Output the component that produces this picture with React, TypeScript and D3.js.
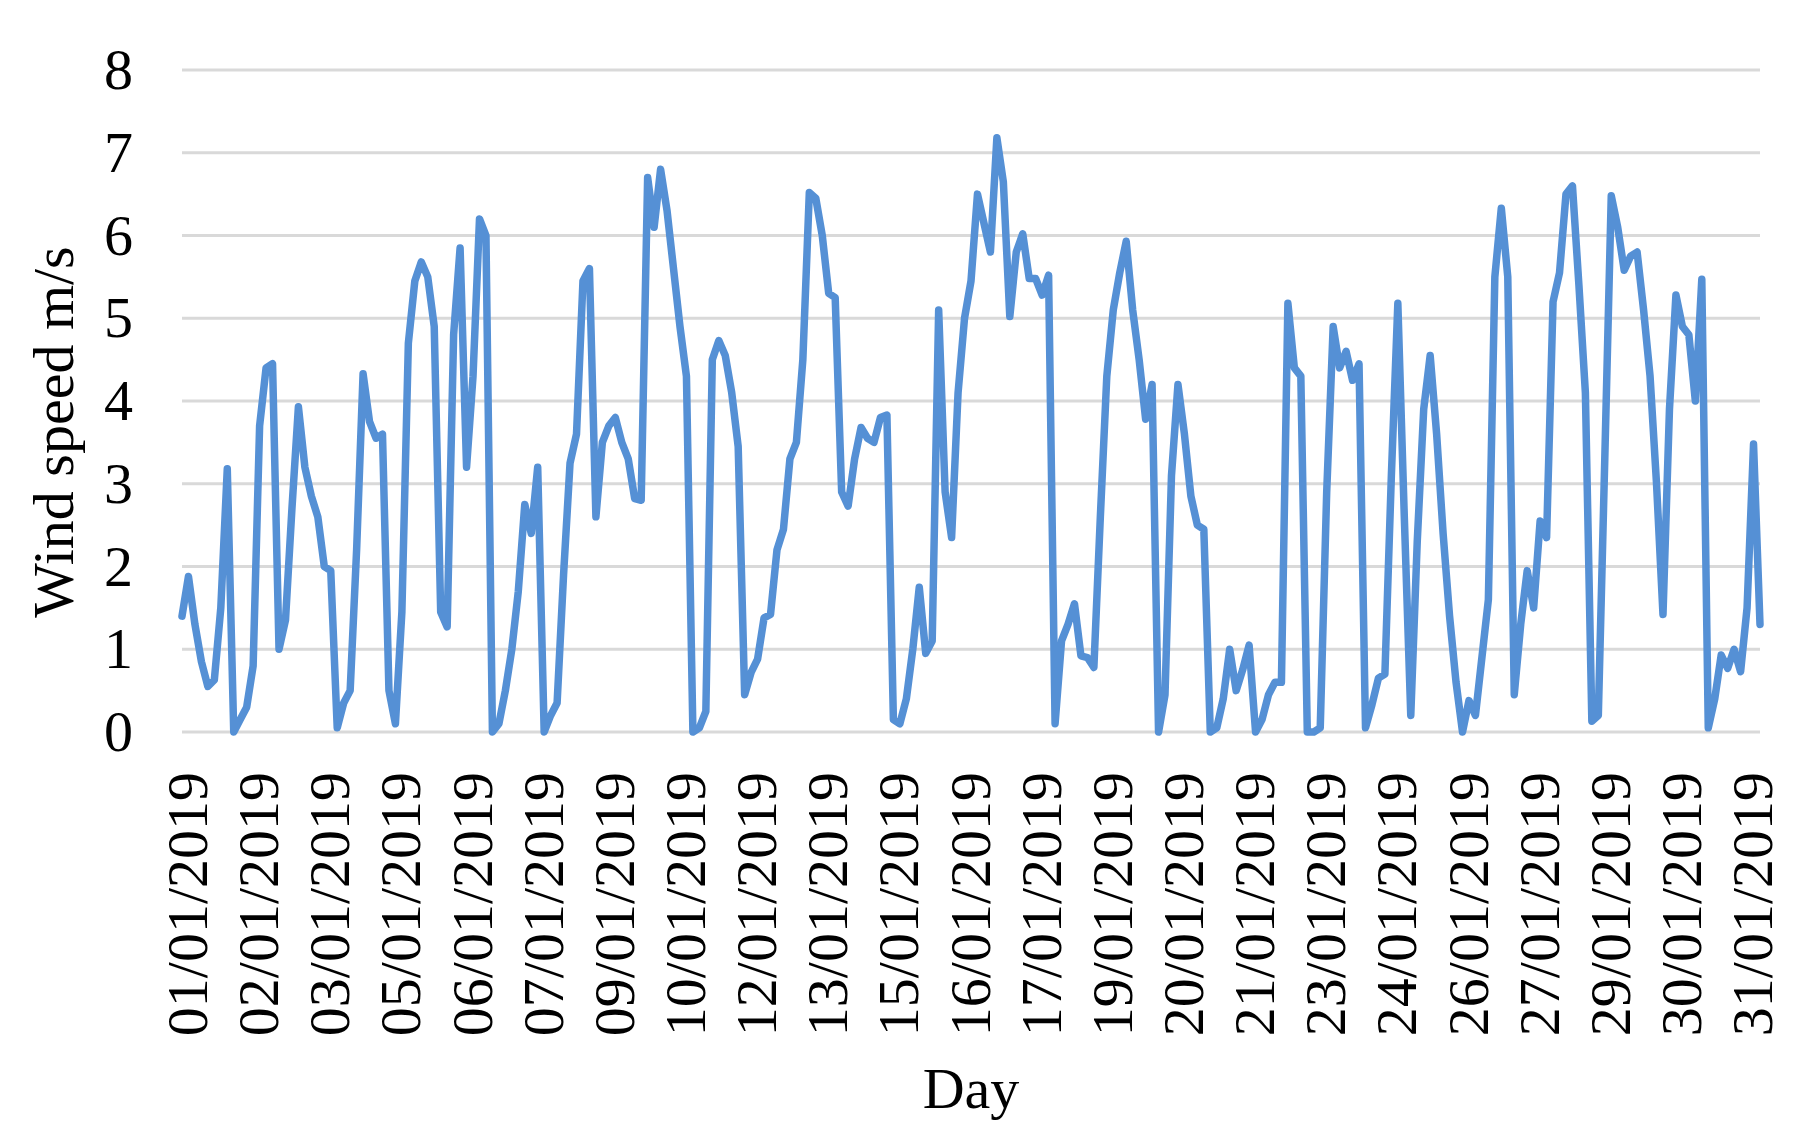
import React from "react";
import * as d3 from "d3";

// Category labels shown on the x axis (one label every 11 readings)
const dayLabels: string[] = [
  "01/01/2019", "02/01/2019", "03/01/2019", "05/01/2019", "06/01/2019",
  "07/01/2019", "09/01/2019", "10/01/2019", "12/01/2019", "13/01/2019",
  "15/01/2019", "16/01/2019", "17/01/2019", "19/01/2019", "20/01/2019",
  "21/01/2019", "23/01/2019", "24/01/2019", "26/01/2019", "27/01/2019",
  "29/01/2019", "30/01/2019", "31/01/2019",
];
const labelEvery = 11;

// Wind speed readings (m/s)
const windSpeed: number[] = [
  1.40, 1.88, 1.30, 0.85, 0.55, 0.63, 1.50, 3.18, 0.00, 0.15,
  0.30, 0.80, 3.70, 4.40, 4.45, 1.00, 1.35, 2.70, 3.93, 3.20,
  2.85, 2.60, 2.00, 1.95, 0.05, 0.35, 0.50, 2.20, 4.33, 3.75,
  3.55, 3.60, 0.50, 0.10, 1.45, 4.70, 5.45, 5.68, 5.50, 4.90,
  1.45, 1.27, 4.80, 5.85, 3.20, 4.30, 6.20, 6.00, 0.00, 0.10,
  0.50, 1.00, 1.70, 2.75, 2.40, 3.20, 0.00, 0.20, 0.35, 1.90,
  3.25, 3.60, 5.45, 5.60, 2.60, 3.50, 3.70, 3.80, 3.50, 3.30,
  2.82, 2.80, 6.70, 6.10, 6.80, 6.30, 5.60, 4.90, 4.30, 0.00,
  0.05, 0.25, 4.50, 4.73, 4.55, 4.10, 3.45, 0.45, 0.72, 0.88,
  1.38, 1.42, 2.20, 2.45, 3.30, 3.50, 4.50, 6.52, 6.45, 6.00,
  5.30, 5.25, 2.90, 2.73, 3.30, 3.68, 3.55, 3.50, 3.80, 3.83,
  0.15, 0.10, 0.40, 1.00, 1.75, 0.95, 1.10, 5.10, 2.90, 2.35,
  4.10, 5.00, 5.45, 6.50, 6.15, 5.80, 7.18, 6.65, 5.02, 5.80,
  6.02, 5.48, 5.48, 5.28, 5.52, 0.10, 1.10, 1.30, 1.55, 0.92,
  0.90, 0.78, 2.60, 4.30, 5.10, 5.55, 5.93, 5.10, 4.50, 3.78,
  4.20, 0.00, 0.45, 3.10, 4.20, 3.60, 2.85, 2.50, 2.45, 0.00,
  0.05, 0.40, 1.00, 0.50, 0.75, 1.05, 0.00, 0.15, 0.45, 0.60,
  0.60, 5.18, 4.40, 4.30, 0.00, 0.00, 0.05, 2.90, 4.90, 4.40,
  4.60, 4.25, 4.45, 0.05, 0.33, 0.65, 0.70, 3.10, 5.18, 2.60,
  0.20, 2.30, 3.90, 4.55, 3.60, 2.40, 1.40, 0.60, 0.00, 0.38,
  0.20, 0.90, 1.60, 5.50, 6.33, 5.50, 0.45, 1.30, 1.95, 1.50,
  2.55, 2.35, 5.20, 5.55, 6.50, 6.60, 5.40, 4.10, 0.13, 0.20,
  3.30, 6.48, 6.10, 5.58, 5.75, 5.80, 5.10, 4.30, 3.00, 1.42,
  3.90, 5.28, 4.90, 4.80, 4.00, 5.47, 0.05, 0.40, 0.93, 0.77,
  1.00, 0.73, 1.50, 3.48, 1.30,
];

const yTicks: number[] = [0, 1, 2, 3, 4, 5, 6, 7, 8];
const yDomain: [number, number] = [0, 8];
const xTitle = "Day";
const yTitle = "Wind speed m/s";

const FONT = "'Liberation Serif', 'Times New Roman', Times, serif";

export default function App() {
  const W = 1806;
  const H = 1143;
  const plot = { left: 182, right: 1760, top: 70, bottom: 732 };

  const x = d3
    .scaleLinear()
    .domain([0, windSpeed.length - 1])
    .range([plot.left, plot.right]);
  const y = d3.scaleLinear().domain(yDomain).range([plot.bottom, plot.top]);

  const linePath =
    d3
      .line<number>()
      .x((_, i) => x(i))
      .y((d) => y(d))(windSpeed) || "";

  return (
    <div style={{ position: "absolute", left: 0, top: 0, width: W, height: H, background: "#fff" }}>
      <svg width={W} height={H} viewBox={`0 0 ${W} ${H}`} style={{ display: "block" }}>
        <rect x={0} y={0} width={W} height={H} fill="#ffffff" />
        {/* gridlines */}
        {yTicks.map((t) => (
          <line
            key={"g" + t}
            x1={plot.left}
            x2={plot.right}
            y1={y(t)}
            y2={y(t)}
            stroke="#d9d9d9"
            strokeWidth={3}
          />
        ))}
        {/* y tick labels */}
        {yTicks.map((t) => (
          <text
            key={"yt" + t}
            x={133}
            y={y(t) + 19}
            textAnchor="end"
            fontFamily={FONT}
            fontSize={58}
            fill="#000"
          >
            {t}
          </text>
        ))}
        {/* x tick labels */}
        {dayLabels.map((lab, k) => {
          const xi = x(k * labelEvery);
          return (
            <text
              key={"xt" + k}
              transform={`translate(${xi + 25},772) rotate(-90)`}
              textAnchor="end"
              fontFamily={FONT}
              fontSize={58}
              fill="#000"
            >
              {lab}
            </text>
          );
        })}
        {/* series line */}
        <path
          d={linePath}
          fill="none"
          stroke="#5590d5"
          strokeWidth={7.5}
          strokeLinejoin="round"
          strokeLinecap="round"
        />
        {/* axis titles */}
        <text
          x={(plot.left + plot.right) / 2}
          y={1108}
          textAnchor="middle"
          fontFamily={FONT}
          fontSize={58}
          fill="#000"
        >
          {xTitle}
        </text>
        <text
          transform={`translate(73,432) rotate(-90)`}
          textAnchor="middle"
          fontFamily={FONT}
          fontSize={58}
          fill="#000"
        >
          {yTitle}
        </text>
      </svg>
    </div>
  );
}
